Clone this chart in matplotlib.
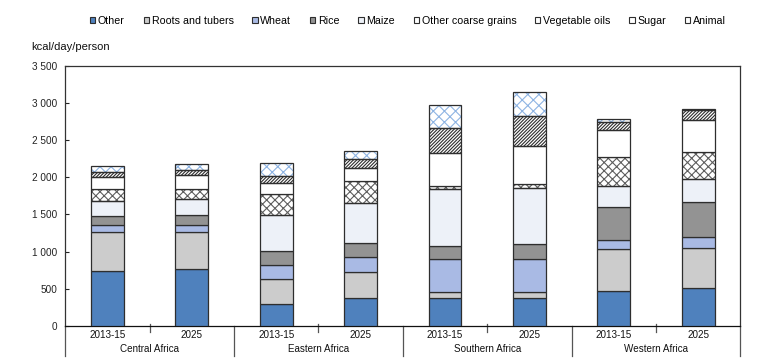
import matplotlib
matplotlib.use("Agg")
import matplotlib.pyplot as plt
from matplotlib.patches import Patch
from matplotlib.lines import Line2D
from matplotlib.ticker import FuncFormatter

plt.rcParams['font.family'] = ['Liberation Sans', 'DejaVu Sans']
plt.rcParams['hatch.linewidth'] = 0.8

# ---- data ----
regions = ['Central Africa', 'Eastern Africa', 'Southern Africa', 'Western Africa']
years = ['2013-15', '2025']
series_names = ['Other', 'Roots and tubers', 'Wheat', 'Rice', 'Maize',
                'Other coarse grains', 'Vegetable oils', 'Sugar', 'Animal']
other = [740, 767, 296, 373, 373, 373, 471, 507]
roots = [529, 502, 341, 354, 81, 81, 561, 542]
wheat = [90, 86, 188, 198, 448, 448, 121, 144]
rice = [125, 139, 180, 188, 179, 198, 444, 475]
maize = [202, 211, 485, 538, 759, 754, 287, 306]
coarse = [152, 135, 283, 300, 35, 58, 381, 363]
vegoil = [170, 188, 148, 171, 450, 502, 373, 425]
sugar = [63, 71, 98, 121, 337, 413, 104, 135]
animal = [85, 77, 171, 102, 314, 319, 40, 23]
yticks = [0, 500, 1000, 1500, 2000, 2500, 3000, 3500]

series = [other, roots, wheat, rice, maize, coarse, vegoil, sugar, animal]
# styles: (facecolor, hatch, hatchcolor)
styles = [
    ('#4F81BD', None, None),
    ('#CCCCCC', None, None),
    ('#A9BAE4', None, None),
    ('#939393', None, None),
    ('#EDF1F8', None, None),
    ('#FFFFFF', 'xxxx', '#5E5E5E'),
    ('#FFFFFF', None, None),
    ('#FFFFFF', '//////////', '#2E2E2E'),
    ('#FFFFFF', 'xxx', '#8EB4E3'),
]
edge = '#2E2E2E'

W, H = 775, 360
fig = plt.figure(figsize=(W / 100, H / 100), dpi=100)
ax_l, ax_r, ax_t, ax_b = 65.3, 740.3, 65.5, 326.0
ax = fig.add_axes([ax_l / W, 1 - ax_b / H, (ax_r - ax_l) / W, (ax_b - ax_t) / H])
axh = ax_b - ax_t

n = len(regions) * len(years)
x = list(range(n))
bw = 0.39
bottom = [0] * n
for vals, (fc, hatch, hc) in zip(series, styles):
    if hatch:
        ax.bar(x, vals, bw, bottom=bottom, color=fc, edgecolor=hc, hatch=hatch, linewidth=0, zorder=2)
        ax.bar(x, vals, bw, bottom=bottom, fill=False, edgecolor=edge, linewidth=0.9, zorder=3)
    else:
        ax.bar(x, vals, bw, bottom=bottom, color=fc, edgecolor=edge, linewidth=0.9, zorder=3)
    bottom = [b + v for b, v in zip(bottom, vals)]

ax.set_xlim(-0.5, n - 0.5)
ax.set_ylim(0, 3500)
ax.set_yticks(yticks)
ax.yaxis.set_major_formatter(FuncFormatter(lambda v, p: f"{int(v):,}".replace(',', ' ')))
ax.tick_params(axis='y', direction='in', length=3, width=0.8, labelsize=7.2, pad=5.5, colors='#222222')
ax.tick_params(axis='x', bottom=False, labelbottom=False)
for s in ['left', 'right', 'top']:
    ax.spines[s].set_color('#333333')
    ax.spines[s].set_linewidth(0.9)
ax.spines['bottom'].set_color('#111111')
ax.spines['bottom'].set_linewidth(0.9)

tr = ax.get_xaxis_transform()
# group separators
for g in range(len(regions) + 1):
    xs = g * len(years) - 0.5
    ax.add_line(Line2D([xs, xs], [0, -30 / axh], transform=tr, color='#555555', lw=0.9, clip_on=False))
# short ticks between years
for g in range(len(regions)):
    xs = g * len(years) + 0.5
    ax.add_line(Line2D([xs, xs], [2 / axh, -6 / axh], transform=tr, color='#555555', lw=0.9, clip_on=False))
# labels
for i in range(n):
    ax.text(i, -8.5 / axh, years[i % len(years)], transform=tr, ha='center', va='center', fontsize=7.1, color='#111111')
for g, r in enumerate(regions):
    ax.text(g * len(years) + 0.5, -23.5 / axh, r, transform=tr, ha='center', va='center', fontsize=7.1, color='#111111')

fig.text(31.5 / W, 1 - 47 / H, 'kcal/day/person', ha='left', va='center', fontsize=8, color='#111111')

handles = []
for name, (fc, hatch, hc) in zip(series_names, styles):
    handles.append(Patch(facecolor=fc, edgecolor=edge, linewidth=0.8, label=name))
leg = fig.legend(handles=handles, loc='center', bbox_to_anchor=((91.7 + 724) / 2 / W, 1 - 20.5 / H),
                 ncol=9, frameon=False, fontsize=7.7, handlelength=0.5, handleheight=0.5,
                 handletextpad=0.25, columnspacing=1.75, borderpad=0, borderaxespad=0)

fig.savefig('out.png', dpi=100)
